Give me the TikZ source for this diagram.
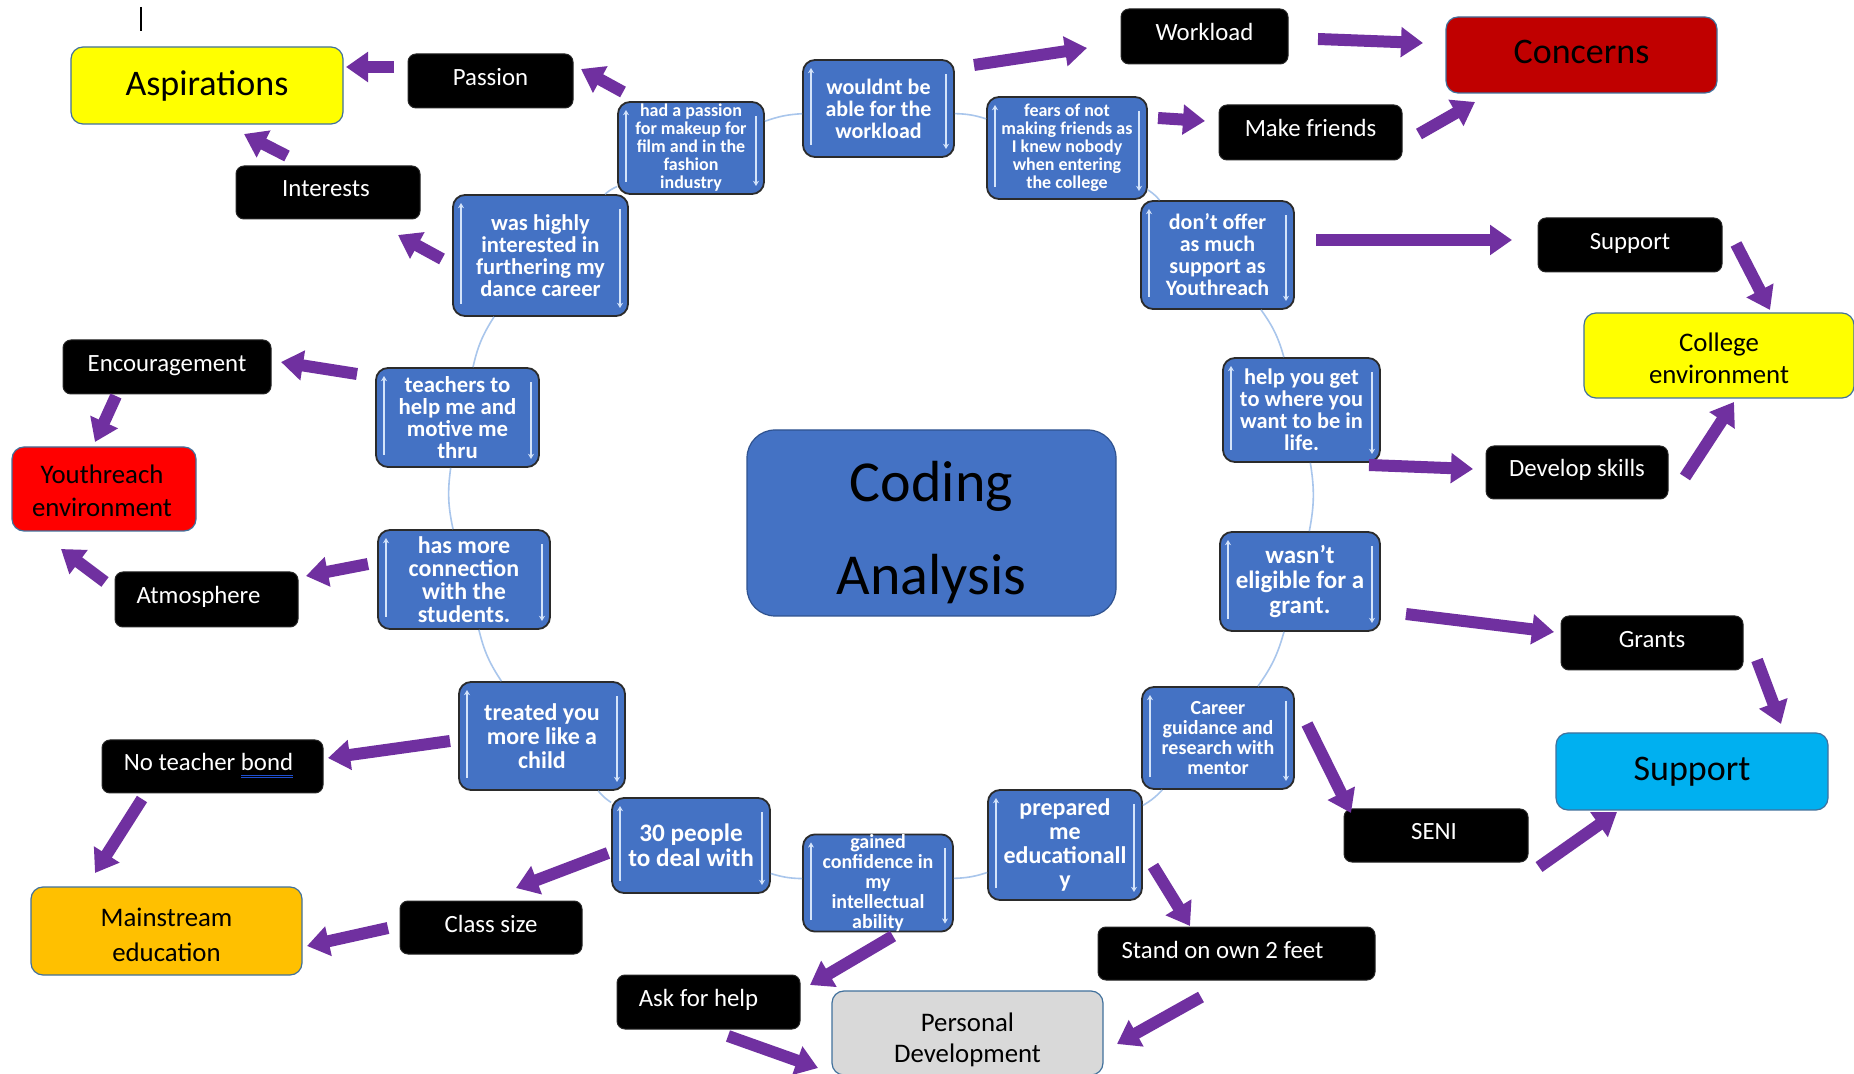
\documentclass[tikz,border=0pt]{standalone}
\usepackage{fontspec}
\setmainfont{Carlito}
\usetikzlibrary{arrows.meta}
\definecolor{arrpurple}{HTML}{7030A0}
\definecolor{nodeblue}{HTML}{4472C4}
\definecolor{nodeedge}{HTML}{2B2B2B}
\definecolor{bordblue}{HTML}{41719C}
\definecolor{ringblue}{HTML}{A9C6EC}
\definecolor{bevelc}{HTML}{D4E4FA}
\definecolor{ulblue}{HTML}{1F4FD0}
\definecolor{aspyellow}{HTML}{FFFF00}
\definecolor{concred}{HTML}{C00000}
\definecolor{yred}{HTML}{FF0000}
\definecolor{supcyan}{HTML}{00B0F0}
\definecolor{mainorange}{HTML}{FFC000}
\definecolor{pdgray}{HTML}{D9D9D9}
\definecolor{centeredge}{HTML}{2F528F}
\newcommand\myfs[2]{\fontsize{#1}{#2}\selectfont}
\newcommand\spellul[1]{\setbox0=\hbox{#1}\rlap{\color{ulblue}\rule[-2.2pt]{\wd0}{0.45pt}}\rlap{\color{ulblue}\rule[-3.3pt]{\wd0}{0.45pt}}#1}
\begin{document}
\begin{tikzpicture}[x=0.5pt,y=-0.5pt,
  blk/.style={rectangle, rounded corners=4pt, fill=black, draw=black!85, line width=0.5pt, text=white, align=center, inner sep=0pt, text height=9pt, text depth=4.5pt, font=\myfs{12.4}{15}},
  colbox/.style={rectangle, rounded corners=6pt, draw=bordblue, line width=0.6pt, text=black, align=center, inner sep=0pt},
  bnode/.style={rectangle, rounded corners=6pt, fill=nodeblue, draw=nodeedge, line width=0.9pt, text=white, align=center, inner sep=0pt,
    path picture={
      \draw[bevelc, line width=1.3pt, -{Stealth[length=2.6pt,width=3pt]}]
        ([shift={(8,-12)}]path picture bounding box.south west) -- ([shift={(8,8)}]path picture bounding box.north west);
      \draw[bevelc, line width=1.3pt, -{Stealth[length=2.6pt,width=3pt]}]
        ([shift={(-8,14)}]path picture bounding box.north east) -- ([shift={(-8,-8)}]path picture bounding box.south east);
    }},
  txt/.style={inner sep=0pt, align=center},
  parrow/.style={draw=arrpurple, line width=6pt, -{Triangle[width=14.5pt,length=11pt]}},
  ring/.style={draw=ringblue, line width=0.8pt}
]
\useasboundingbox (0,0) rectangle (1854,1074);
\fill[white] (0,0) rectangle (1854,1074);
% cursor mark
\coordinate (cur1) at (141,7);
\coordinate (cur2) at (141,31);
\draw[line width=0.8pt] (cur1) -- (cur2);

% centre
\node[rectangle, rounded corners=14pt, fill=nodeblue, draw=centeredge, line width=0.6pt, minimum width=184.5pt, minimum height=93pt, inner sep=0pt] (coding) at (931.5,523) {};
\node[txt, font=\myfs{29}{46.5}] (codingtext) at (931.5,533) {Coding\\Analysis};

% coloured category boxes
\node[colbox, fill=aspyellow, minimum width=136pt, minimum height=38.5pt, font=\myfs{18}{20}] (aspirations) at (207,85.5) {Aspirations};
\node[colbox, fill=concred, minimum width=135.5pt, minimum height=38pt, font=\myfs{18}{20}] (concerns) at (1581.5,55) {};
\node[txt, font=\myfs{18}{20}] (concernstext) at (1581.5,52) {Concerns};
\node[colbox, fill=aspyellow, minimum width=135pt, minimum height=42.5pt, font=\myfs{13.4}{16}] (college) at (1719,355.5) {};
\node[txt, font=\myfs{13.4}{16}] (collegetext) at (1719,358) {College\\environment};
\node[colbox, fill=supcyan, minimum width=136pt, minimum height=38.5pt, font=\myfs{18}{20}] (supportc) at (1692,771.5) {Support};
\node[colbox, fill=pdgray, minimum width=135.5pt, minimum height=42pt] (personal) at (967.5,1033) {};
\node[txt, font=\myfs{13.4}{15.5}] (personaltext) at (967.5,1040) {Personal\\Development};
\node[colbox, fill=mainorange, minimum width=135.5pt, minimum height=44pt] (mainstream) at (166.5,931) {};
\node[txt, font=\myfs{13.4}{17.5}] (mainstreamtext) at (166.5,935) {Mainstream\\education};
\node[colbox, fill=yred, minimum width=92pt, minimum height=42pt] (youthreach) at (104,489) {};
\node[txt, font=\myfs{13.4}{16.5}] (youthreachtext) at (102,491) {Youthreach\\environment};

% black code boxes
\node[blk, minimum width=82.5pt, minimum height=27pt] (passion) at (490.5,81) {Passion};
\node[blk, minimum width=92pt, minimum height=26.5pt] (interests) at (328,192.5) {Interests\hspace*{2pt}};
\node[blk, minimum width=83.5pt, minimum height=27.5pt] (workload) at (1204.5,36.5) {Workload};
\node[blk, minimum width=91.5pt, minimum height=27.5pt] (makefriends) at (1310.5,132.5) {Make friends};
\node[blk, minimum width=92pt, minimum height=27pt] (supportb) at (1630,245) {Support};
\node[blk, minimum width=91pt, minimum height=26.5pt] (develop) at (1577,472.5) {Develop skills};
\node[blk, minimum width=91pt, minimum height=27pt] (grants) at (1652,643) {Grants};
\node[blk, minimum width=92pt, minimum height=26.5pt] (seni) at (1436,835.5) {SENI\hspace*{2pt}};
\node[blk, minimum width=138.5pt, minimum height=26.5pt] (stand) at (1236.5,953.5) {Stand on own 2 feet\hspace*{14pt}};
\node[blk, minimum width=91.5pt, minimum height=27pt] (askhelp) at (708.5,1002) {Ask for help\hspace*{10pt}};
\node[blk, minimum width=91pt, minimum height=26.5pt] (classsize) at (491,927.5) {Class size};
\node[blk, minimum width=110.5pt, minimum height=26.5pt] (noteacher) at (212.5,766.5) {No teacher \spellul{bond}\hspace*{4pt}};
\node[blk, minimum width=91.5pt, minimum height=27.5pt] (atmosphere) at (206.5,599.5) {Atmosphere\hspace*{8pt}};
\node[blk, minimum width=104pt, minimum height=27pt] (encouragement) at (167,367) {Encouragement};

% blue quote nodes
\node[bnode, minimum width=73pt, minimum height=46pt, font=\bfseries\myfs{9}{9}] (hadpassion) at (691,148) {had a passion\\for makeup for\\film and in the\\fashion\\industry};
\node[bnode, minimum width=75.5pt, minimum height=48.5pt, font=\bfseries\myfs{11}{11}] (wouldnt) at (878.5,108.5) {wouldnt be\\able for the\\workload};
\node[bnode, minimum width=80pt, minimum height=51pt, font=\bfseries\myfs{9}{9}] (fears) at (1067,148) {fears of not\\making friends as\\I knew nobody\\when entering\\the college};
\node[bnode, minimum width=76.5pt, minimum height=54pt, font=\bfseries\myfs{11}{11}] (dontoffer) at (1217.5,255) {don't offer\\as much\\support as\\Youthreach};
\node[bnode, minimum width=78.5pt, minimum height=52pt, font=\bfseries\myfs{11.2}{11}] (helpget) at (1301.5,410) {help you get\\to where you\\want to be in\\life.};
\node[bnode, minimum width=80pt, minimum height=49.5pt, font=\bfseries\myfs{12.5}{12.5}] (wasnt) at (1300,581.5) {wasn't\\eligible for a\\grant.};
\node[bnode, minimum width=76pt, minimum height=51pt, font=\bfseries\myfs{10}{10}] (career) at (1218,738) {Career\\guidance and\\research with\\mentor};
\node[bnode, minimum width=77pt, minimum height=55pt, font=\bfseries\myfs{12}{12}] (prepared) at (1065,845) {prepared\\me\\educationall\\y};
\node[bnode, minimum width=75pt, minimum height=48pt, font=\bfseries\myfs{10}{10}] (gained) at (878,883) {gained\\confidence in\\my\\intellectual\\ability};
\node[bnode, minimum width=79pt, minimum height=47.5pt, font=\bfseries\myfs{12.6}{12.5}] (thirty) at (691,845.5) {30 people\\to deal with};
\node[bnode, minimum width=83pt, minimum height=54pt, font=\bfseries\myfs{12}{12}] (treated) at (542,736) {treated you\\more like a\\child};
\node[bnode, minimum width=86pt, minimum height=49.5pt, font=\bfseries\myfs{12}{11.5}] (hasmore) at (464,579.5) {has more\\connection\\with the\\students.};
\node[bnode, minimum width=81.5pt, minimum height=49.5pt, font=\bfseries\myfs{11.4}{11}] (teachers) at (457.5,417.5) {teachers to\\help me and\\motive me\\thru};
\node[bnode, minimum width=87.5pt, minimum height=60.5pt, font=\bfseries\myfs{11.3}{11}] (washighly) at (540.5,255.5) {was highly\\interested in\\furthering my\\dance career};

% ring connectors between the quotes
\draw[ring] (hadpassion) to[bend left=8] (wouldnt);
\draw[ring] (wouldnt) to[bend left=8] (fears);
\draw[ring] (fears) to[bend left=8] (dontoffer);
\draw[ring] (dontoffer) to[bend left=10] (helpget);
\draw[ring] (helpget) to[bend left=10] (wasnt);
\draw[ring] (wasnt) to[bend left=10] (career);
\draw[ring] (career) to[bend left=8] (prepared);
\draw[ring] (prepared) to[bend left=8] (gained);
\draw[ring] (gained) to[bend left=8] (thirty);
\draw[ring] (thirty) to[bend left=8] (treated);
\draw[ring] (treated) to[bend left=10] (hasmore);
\draw[ring] (hasmore) to[bend left=10] (teachers);
\draw[ring] (teachers) to[bend left=10] (washighly);
\draw[ring] (washighly) to[bend left=8] (hadpassion);

% purple block arrows
\foreach \n/\xa/\ya/\xb/\yb in {
  1/394/67/346/67, 2/623/92/581/69, 3/287/156/244/134, 4/442/259/398/235,
  5/974/65/1087/48, 6/1318/39/1423/43, 7/1158/118/1205/121, 8/1419/134/1475/102,
  9/1316/240/1512/240, 10/1736/244/1770/310, 11/1369/465/1473/469, 12/1685/477/1734/402,
  13/1406/614/1554/632, 14/1757/660/1781/724, 15/1307/724/1351/813, 16/1539/867/1617/812,
  17/1153/866/1190/926, 18/1201/997/1117/1044, 19/893/936/810/985, 20/728/1036/818/1068,
  21/608/853/516/888, 22/388/928/307/946, 23/450/741/328/758, 24/142/799/95/873,
  25/368/564/306/576, 26/105/582/61/549, 27/357/374/281/362, 28/116/396/95/442}{
  \coordinate (s\n) at (\xa,\ya);
  \coordinate (e\n) at (\xb,\yb);
  \draw[parrow] (s\n) -- (e\n);
}
\end{tikzpicture}
\end{document}
